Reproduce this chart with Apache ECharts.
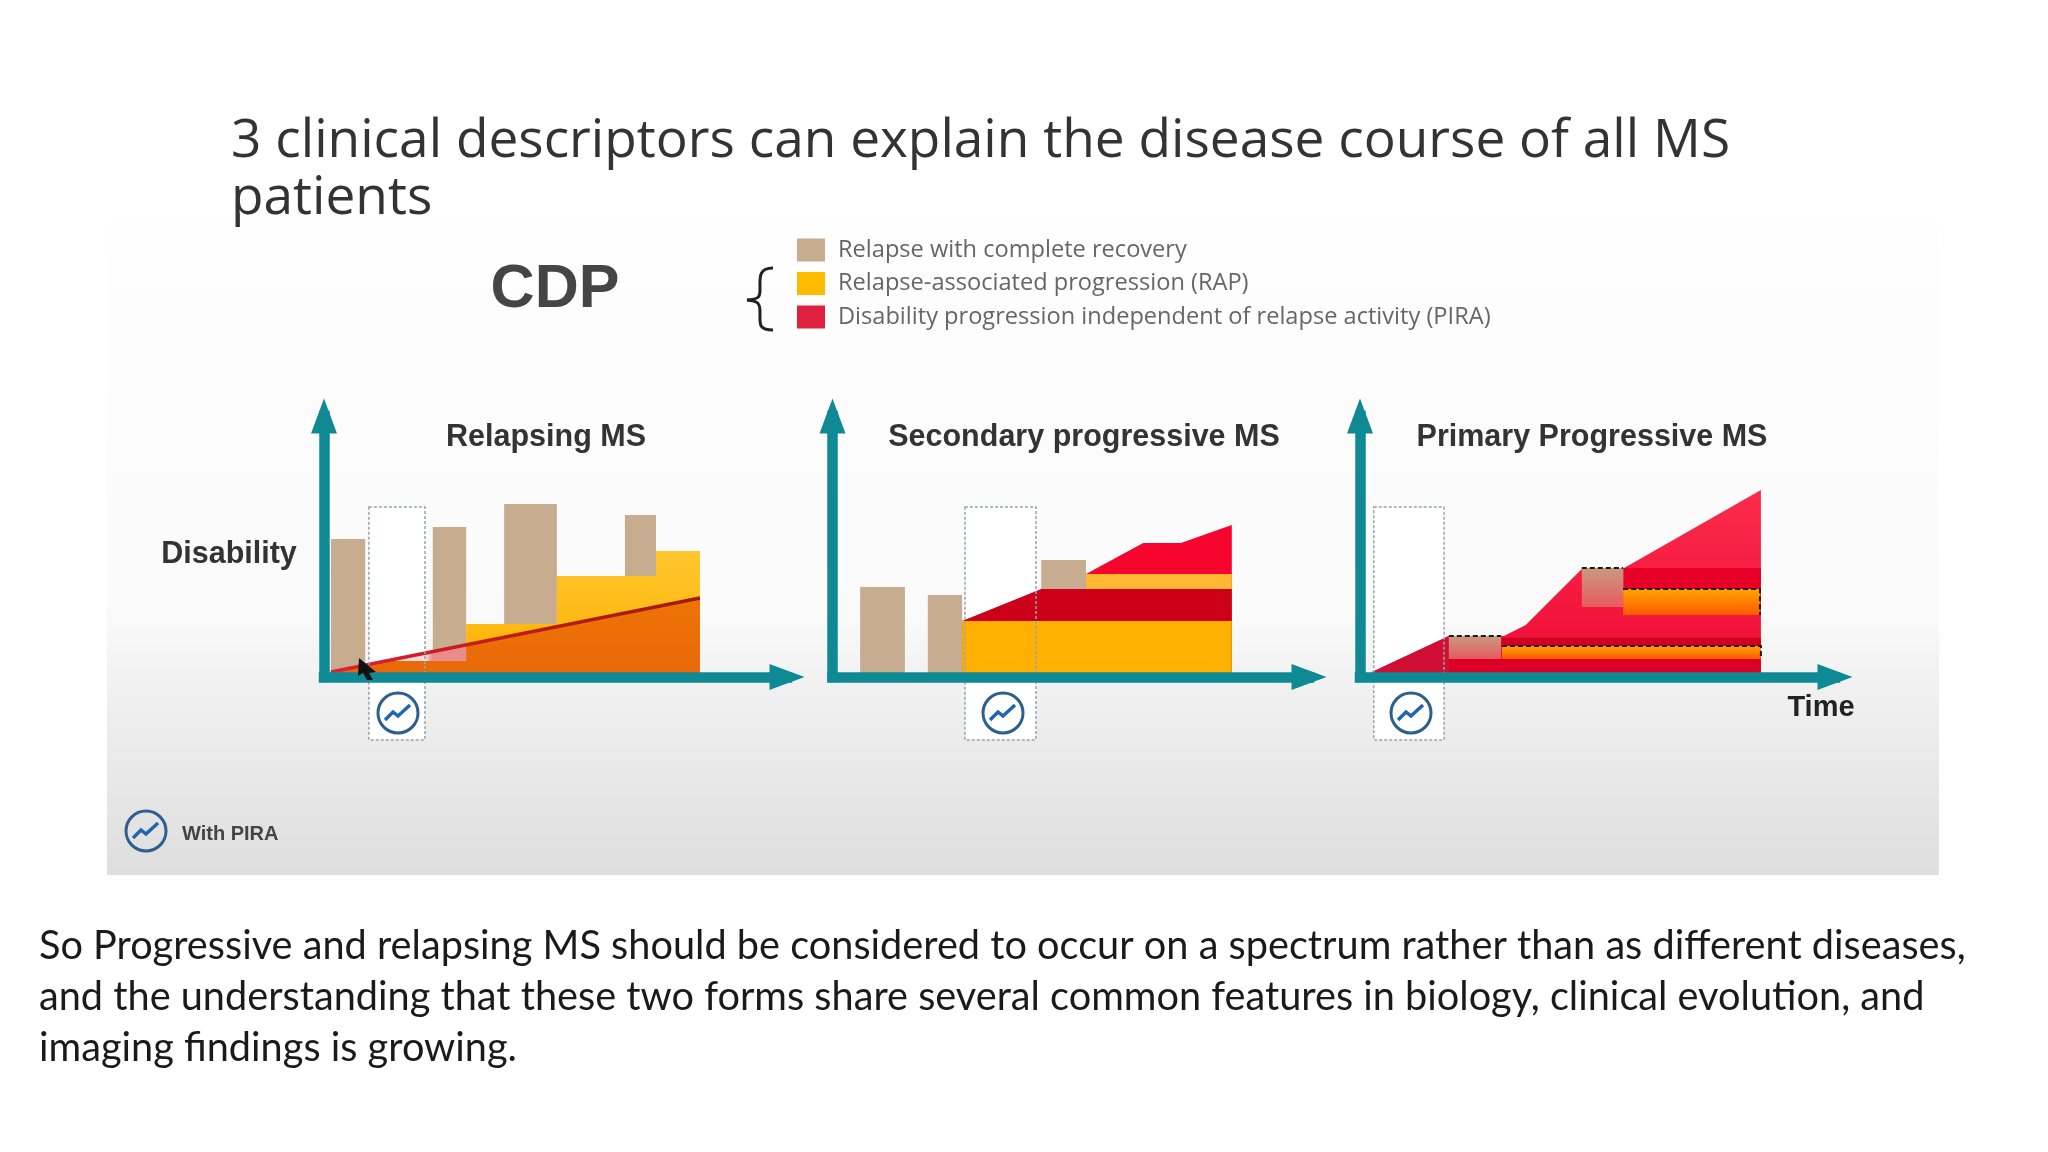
<!DOCTYPE html>
<html><head><meta charset="utf-8">
<style>html,body{margin:0;padding:0;background:#fff}#c{width:2048px;height:1152px}</style>
<script src="https://cdn.jsdelivr.net/npm/echarts@6/dist/echarts.min.js"></script>
</head><body><div id="c"></div>
<script>
// ---------- text ----------
const slideTitle = "3 clinical descriptors can explain the disease course of all MS\npatients";
const panelTitles = ["Relapsing MS", "Secondary progressive MS", "Primary Progressive MS"];
const legendNames = ["Relapse with complete recovery", "Relapse-associated progression (RAP)", "Disability progression independent of relapse activity (PIRA)"];
const bodyLines = [
  "So Progressive and relapsing MS should be considered to occur on a spectrum rather than as different diseases,",
  "and the understanding that these two forms share several common features in biology, clinical evolution, and",
  "imaging findings is growing."
];
// ---------- data: time 0-100, disability 0-100 ----------
// rect rows: [timeStart, timeEnd, top, bottom]
const rmsRelapses = [[1.5,8.9,52.9,0],[23.5,30.7,57.5,0],[38.9,50.3,66.3,0],[65,71.7,62.1,0]];
const rmsRap = [[30.7,20.3],[50.3,20.3],[50.3,38.7],[71.7,38.7],[71.7,48.3],[81.2,48.3]];
const rmsPiraPale = [[1.5,1.9],[30.7,12.3]];
const rmsPira = [[1.5,1.9],[13.4,6.1],[30.7,6.1],[30.7,12.3],[81.2,30.3]];
const rmsPiraLine = [[1.5,1.9],[81.2,30.3]];
const rmsWindow = [[9.7,21.8,65.1,-24.1]];

const spmsRelapses = [[5.8,15.2,34.5,0],[20,27.2,31.4,0],[43.8,53.2,44.8,0]];
const spmsPiraTop = [[53.2,39.5],[65.2,51.3],[73.1,51.3],[83.8,58.2]];
const spmsRapTop = [[53.2,39.5],[83.8,39.5]];
const spmsPiraMid = [[27.2,21.5],[43.8,33.7],[83.8,33.7]];
const spmsRapBase = [[27.2,21.5],[83.8,21.5]];
const spmsWindow = [[27.8,42.7,65.1,-24.1]];

const ppmsPira = [[2.5,1.9],[18.7,15.7],[30.3,15.7],[34.9,19.9],[46.9,41.8],[55.6,41.8],[84.4,71.6]];
const ppmsPiraStart = [[2.5,1.9],[18.7,15.7]];
const ppmsBandUpper = [[55.6,84.4,41.8,33.7]];
const ppmsBandLower = [[29.7,84.4,15,11.9]];
const ppmsBandBase = [[18.7,84.4,6.9,0]];
const ppmsRelapses = [[18.7,29.7,15.7,6.9],[46.7,55.4,41.8,26.8]];
const ppmsRap = [[29.9,84.4,11.9,6.9],[55.4,84.2,33.7,23.8]];
const ppmsWindow = [[2.9,17.7,65.1,-24.1]];

const TAN='#C8AC90', RED='#E0203F', TEAL='#0F8A94', G=echarts.graphic;
const vGrad=(a,b)=>new G.LinearGradient(0,0,0,1,[{offset:0,color:a},{offset:1,color:b}]);
const hStops=(stops)=>new G.LinearGradient(0,0,1,0,stops.map(([offset,color])=>({offset,color})));

function rects(name,i,data,style){
  return {type:'custom',name,xAxisIndex:i,yAxisIndex:i,data,clip:false,encode:{x:[0,1],y:[2,3]},
    renderItem:(p,api)=>{
      const a=api.coord([api.value(0),api.value(2)]), b=api.coord([api.value(1),api.value(3)]);
      return {type:'rect',shape:{x:a[0],y:a[1],width:b[0]-a[0],height:b[1]-a[1]},style};
    }};
}
// dashed edge along the top of each rect row, optionally down its right side
function edges(name,i,data,withRight){
  return {type:'custom',name,xAxisIndex:i,yAxisIndex:i,data,clip:false,encode:{x:[0,1],y:[2,3]},
    renderItem:(p,api)=>{
      const a=api.coord([api.value(0),api.value(2)]), b=api.coord([api.value(1),api.value(3)]);
      const points=[[a[0],a[1]],[b[0],a[1]]];
      if(withRight) points.push([b[0],b[1]]);
      return {type:'polyline',shape:{points},style:{fill:'none',stroke:'#1a1a1a',lineWidth:2,lineDash:[5,3]}};
    }};
}
function area(name,i,data,fill){
  return {type:'line',name,xAxisIndex:i,yAxisIndex:i,data,symbol:'none',clip:false,
    lineStyle:{width:0,opacity:0},itemStyle:{color:fill},areaStyle:{color:fill,opacity:1}};
}
const outline={fill:'none',stroke:'#9aa4a8',lineWidth:1.5,lineDash:[3,2]};
const [N0,N1,N2]=legendNames;

const series=[
  // Relapsing MS
  rects('window',0,rmsWindow,{fill:'#fff'}),
  rects(N0,0,rmsRelapses,{fill:TAN}),
  area(N1,0,rmsRap,vGrad('#FFC62E','#FFB000')),
  area(N2,0,rmsPiraPale,hStops([[0,'#FBDADC'],[.7,'#FBDADC'],[.75,'#E88C8C'],[1,'#E88C8C']])),
  area(N2,0,rmsPira,vGrad('#EE7404','#E8680A')),
  {type:'line',name:N2,xAxisIndex:0,yAxisIndex:0,data:rmsPiraLine,symbol:'none',clip:false,
   lineStyle:{width:3.5,color:hStops([[0,'#E0203C'],[.4,'#C41C1C'],[1,'#A31810']])}},
  rects('window',0,rmsWindow,outline),
  // Secondary progressive MS
  rects('window',1,spmsWindow,{fill:'#fff'}),
  rects(N0,1,spmsRelapses,{fill:TAN}),
  area(N2,1,spmsPiraTop,'#F6062E'),
  area(N1,1,spmsRapTop,'#FFB733'),
  area(N2,1,spmsPiraMid,'#CC0018'),
  area(N1,1,spmsRapBase,'#FFB000'),
  rects('window',1,spmsWindow,outline),
  // Primary Progressive MS
  rects('window',2,ppmsWindow,{fill:'#fff'}),
  area(N2,2,ppmsPira,vGrad('#FB2C4C','#EE0A34')),
  area(N2,2,ppmsPiraStart,'#CF1034'),
  rects(N2,2,ppmsBandUpper,{fill:'#E60028'}),
  rects(N2,2,ppmsBandLower,{fill:'#D00020'}),
  rects(N2,2,ppmsBandBase,{fill:'#DC0026'}),
  rects(N0,2,ppmsRelapses,{fill:vGrad('#C89A80','#E85A5C')}),
  rects(N1,2,ppmsRap,{fill:vGrad('#FFA400','#FF5A00')}),
  edges(N0,2,ppmsRelapses,false),
  edges(N1,2,ppmsRap,true),
  rects('window',2,ppmsWindow,outline)
];
// paint in listed order
series.forEach((s,i)=>{s.z=2+i;});

const grids=[{left:324,top:416,width:463,height:261},{left:832.5,top:416,width:476.5,height:261},{left:1360,top:416,width:475,height:261}];
const axisLine={show:true,onZero:false,symbol:['none','triangle'],symbolSize:[26,35],lineStyle:{color:TEAL,width:10.5,cap:'square'}};
const ax=()=>({type:'value',min:0,max:100,z:500,axisLine,axisTick:{show:false},axisLabel:{show:false},splitLine:{show:false}});

function icon(cx,cy){
  return {type:'group',x:cx,y:cy,children:[
    {type:'circle',z:600,shape:{cx:0,cy:0,r:20},style:{fill:'none',stroke:'#2C5F8E',lineWidth:3}},
    {type:'polyline',z:600,shape:{points:[[-13,7],[-5,-1],[0,3],[12,-8]]},style:{fill:'none',stroke:'#1F66AE',lineWidth:3.5}}
  ]};
}
const txt=(text,x,y,font,fill,align)=>({type:'text',x,y,z:600,style:{text,font,fill,align:align||'left',verticalAlign:'middle'}});
const BOLD='"Liberation Sans",Arial,sans-serif';
const brace=(x1,y1,cpx1,cpy1,cpx2,cpy2,x2,y2)=>({type:'bezierCurve',z:600,shape:{x1,y1,cpx1,cpy1,cpx2,cpy2,x2,y2},style:{fill:'none',stroke:'#222',lineWidth:3}});

const graphic=[
  {type:'rect',z:-10,shape:{x:107,y:222,width:1832,height:653},
   style:{fill:new G.LinearGradient(0,0,0,1,[{offset:0,color:'#FEFEFE'},{offset:.6,color:'#FAFAFA'},{offset:.68,color:'#F3F3F3'},{offset:1,color:'#DEDEDE'}])}},
  txt('CDP',555,290,'bold 61px '+BOLD,'#454545','center'),
  brace(773,268,758,268,760,278,760,290),
  brace(760,290,760,298,758,299,747,300),
  brace(747,300,758,301,760,303,760,312),
  brace(760,312,760,324,758,330,773,330),
  txt('Disability',229,555,'bold 30.5px '+BOLD,'#333','center'),
  txt('Time',1821,708,'bold 29px '+BOLD,'#222','center'),
  txt('With PIRA',182,834,'bold 20px '+BOLD,'#444'),
  icon(398,713),icon(1003,713),icon(1411,713),icon(146,831),
  {type:'polygon',z:700,shape:{points:[[359,658],[376,672],[369,673],[373,680],[367,680],[363,673],[358,676]]},style:{fill:'#111'}},
  ...bodyLines.map((t,i)=>txt(t,39,946+i*51,'39.7px Lato,"Open Sans",sans-serif','#1a1a1a'))
];

const chart=echarts.init(document.getElementById('c'),null,{width:2048,height:1152});
chart.setOption({
  animation:false,
  backgroundColor:'#fff',
  title:[
    {text:slideTitle,left:226,top:108,textStyle:{fontFamily:'"Open Sans",sans-serif',fontWeight:400,fontSize:53.2,lineHeight:57,color:'#333'}},
    ...panelTitles.map((t,i)=>({text:t,left:[541,1079,1587][i],top:433,textAlign:'center',textVerticalAlign:'middle',
      textStyle:{fontFamily:BOLD,fontWeight:'bold',fontSize:30.5,color:'#333'}}))
  ],
  legend:{orient:'vertical',left:792,top:233,itemWidth:28,itemHeight:23,itemGap:9.5,selectedMode:false,
    textStyle:{fontFamily:'"Open Sans",sans-serif',fontSize:23.6,color:'#666',padding:[0,0,0,8]},
    data:[{name:N0,icon:'rect',itemStyle:{color:TAN}},{name:N1,icon:'rect',itemStyle:{color:'#FFBB00'}},{name:N2,icon:'rect',itemStyle:{color:RED}}]},
  grid:grids,
  xAxis:grids.map((g,i)=>({...ax(),gridIndex:i})),
  yAxis:grids.map((g,i)=>({...ax(),gridIndex:i})),
  graphic,
  series
});
</script></body></html>
